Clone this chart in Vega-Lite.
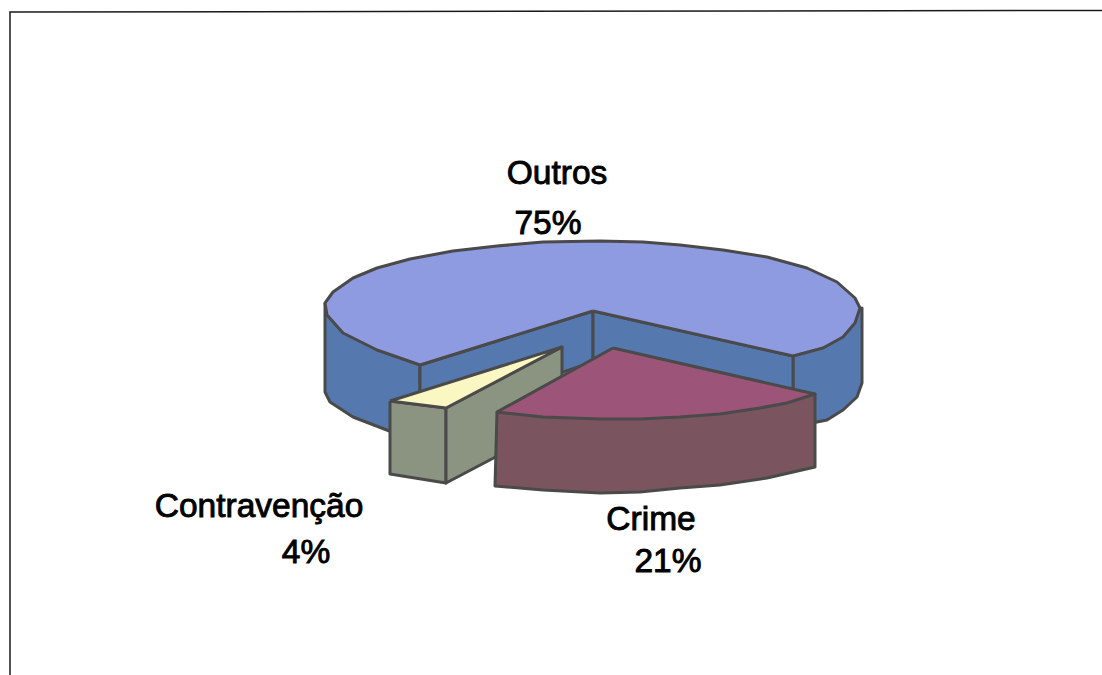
{"$schema":"https://vega.github.io/schema/vega-lite/v6.json","width":1102,"height":675,"padding":0,"autosize":{"type":"none"},"background":"#ffffff","view":{"stroke":null},
"datasets":{"faces":[
{"face":"a Outros outer side","slice":"Outros","share":75,"seq":1,"x":325,"y":303},{"face":"a Outros outer side","slice":"Outros","share":75,"seq":2,"x":325,"y":392},{"face":"a Outros outer side","slice":"Outros","share":75,"seq":3,"x":330,"y":402},{"face":"a Outros outer side","slice":"Outros","share":75,"seq":4,"x":353,"y":417},{"face":"a Outros outer side","slice":"Outros","share":75,"seq":5,"x":392,"y":432},{"face":"a Outros outer side","slice":"Outros","share":75,"seq":6,"x":420,"y":400},{"face":"a Outros outer side","slice":"Outros","share":75,"seq":7,"x":420,"y":365},{"face":"a Outros outer side","slice":"Outros","share":75,"seq":8,"x":325,"y":303},
{"face":"b Outros right side","slice":"Outros","share":75,"seq":1,"x":793,"y":356},{"face":"b Outros right side","slice":"Outros","share":75,"seq":2,"x":862,"y":308},{"face":"b Outros right side","slice":"Outros","share":75,"seq":3,"x":862,"y":383},{"face":"b Outros right side","slice":"Outros","share":75,"seq":4,"x":857,"y":397},{"face":"b Outros right side","slice":"Outros","share":75,"seq":5,"x":843,"y":410},{"face":"b Outros right side","slice":"Outros","share":75,"seq":6,"x":827,"y":420},{"face":"b Outros right side","slice":"Outros","share":75,"seq":7,"x":812,"y":423},{"face":"b Outros right side","slice":"Outros","share":75,"seq":8,"x":793,"y":400},{"face":"b Outros right side","slice":"Outros","share":75,"seq":9,"x":793,"y":356},
{"face":"c Outros left wall","slice":"Outros","share":75,"seq":1,"x":420,"y":365},{"face":"c Outros left wall","slice":"Outros","share":75,"seq":2,"x":593,"y":311},{"face":"c Outros left wall","slice":"Outros","share":75,"seq":3,"x":593,"y":362},{"face":"c Outros left wall","slice":"Outros","share":75,"seq":4,"x":420,"y":420},{"face":"c Outros left wall","slice":"Outros","share":75,"seq":5,"x":420,"y":365},
{"face":"d Outros right wall","slice":"Outros","share":75,"seq":1,"x":593,"y":311},{"face":"d Outros right wall","slice":"Outros","share":75,"seq":2,"x":793,"y":356},{"face":"d Outros right wall","slice":"Outros","share":75,"seq":3,"x":793,"y":410},{"face":"d Outros right wall","slice":"Outros","share":75,"seq":4,"x":593,"y":362},{"face":"d Outros right wall","slice":"Outros","share":75,"seq":5,"x":593,"y":311},
{"face":"e Outros top","slice":"Outros","share":75,"seq":1,"x":593,"y":311},{"face":"e Outros top","slice":"Outros","share":75,"seq":2,"x":420,"y":365},{"face":"e Outros top","slice":"Outros","share":75,"seq":3,"x":377,"y":350},{"face":"e Outros top","slice":"Outros","share":75,"seq":4,"x":343,"y":333},{"face":"e Outros top","slice":"Outros","share":75,"seq":5,"x":327,"y":315},{"face":"e Outros top","slice":"Outros","share":75,"seq":6,"x":325,"y":303},{"face":"e Outros top","slice":"Outros","share":75,"seq":7,"x":333,"y":292},{"face":"e Outros top","slice":"Outros","share":75,"seq":8,"x":353,"y":278},{"face":"e Outros top","slice":"Outros","share":75,"seq":9,"x":377,"y":268},{"face":"e Outros top","slice":"Outros","share":75,"seq":10,"x":410,"y":259},{"face":"e Outros top","slice":"Outros","share":75,"seq":11,"x":453,"y":251},{"face":"e Outros top","slice":"Outros","share":75,"seq":12,"x":497,"y":246},{"face":"e Outros top","slice":"Outros","share":75,"seq":13,"x":543,"y":242},{"face":"e Outros top","slice":"Outros","share":75,"seq":14,"x":600,"y":241},{"face":"e Outros top","slice":"Outros","share":75,"seq":15,"x":643,"y":242},{"face":"e Outros top","slice":"Outros","share":75,"seq":16,"x":680,"y":245},{"face":"e Outros top","slice":"Outros","share":75,"seq":17,"x":723,"y":250},{"face":"e Outros top","slice":"Outros","share":75,"seq":18,"x":767,"y":257},{"face":"e Outros top","slice":"Outros","share":75,"seq":19,"x":807,"y":268},{"face":"e Outros top","slice":"Outros","share":75,"seq":20,"x":837,"y":282},{"face":"e Outros top","slice":"Outros","share":75,"seq":21,"x":855,"y":298},{"face":"e Outros top","slice":"Outros","share":75,"seq":22,"x":860,"y":308},{"face":"e Outros top","slice":"Outros","share":75,"seq":23,"x":855,"y":323},{"face":"e Outros top","slice":"Outros","share":75,"seq":24,"x":843,"y":337},{"face":"e Outros top","slice":"Outros","share":75,"seq":25,"x":823,"y":348},{"face":"e Outros top","slice":"Outros","share":75,"seq":26,"x":793,"y":356},{"face":"e Outros top","slice":"Outros","share":75,"seq":27,"x":593,"y":311},
{"face":"f Contravenção front","slice":"Contravenção","share":4,"seq":1,"x":390,"y":401},{"face":"f Contravenção front","slice":"Contravenção","share":4,"seq":2,"x":446,"y":408},{"face":"f Contravenção front","slice":"Contravenção","share":4,"seq":3,"x":446,"y":483},{"face":"f Contravenção front","slice":"Contravenção","share":4,"seq":4,"x":390,"y":474},{"face":"f Contravenção front","slice":"Contravenção","share":4,"seq":5,"x":390,"y":401},
{"face":"g Contravenção wall","slice":"Contravenção","share":4,"seq":1,"x":446,"y":408},{"face":"g Contravenção wall","slice":"Contravenção","share":4,"seq":2,"x":562,"y":347},{"face":"g Contravenção wall","slice":"Contravenção","share":4,"seq":3,"x":562,"y":422},{"face":"g Contravenção wall","slice":"Contravenção","share":4,"seq":4,"x":446,"y":483},{"face":"g Contravenção wall","slice":"Contravenção","share":4,"seq":5,"x":446,"y":408},
{"face":"h Contravenção top","slice":"Contravenção","share":4,"seq":1,"x":390,"y":401},{"face":"h Contravenção top","slice":"Contravenção","share":4,"seq":2,"x":446,"y":408},{"face":"h Contravenção top","slice":"Contravenção","share":4,"seq":3,"x":562,"y":347},{"face":"h Contravenção top","slice":"Contravenção","share":4,"seq":4,"x":390,"y":401},
{"face":"i Crime side","slice":"Crime","share":21,"seq":1,"x":497,"y":412},{"face":"i Crime side","slice":"Crime","share":21,"seq":2,"x":495,"y":486},{"face":"i Crime side","slice":"Crime","share":21,"seq":3,"x":543,"y":490},{"face":"i Crime side","slice":"Crime","share":21,"seq":4,"x":600,"y":493},{"face":"i Crime side","slice":"Crime","share":21,"seq":5,"x":640,"y":492},{"face":"i Crime side","slice":"Crime","share":21,"seq":6,"x":680,"y":488},{"face":"i Crime side","slice":"Crime","share":21,"seq":7,"x":720,"y":485},{"face":"i Crime side","slice":"Crime","share":21,"seq":8,"x":767,"y":478},{"face":"i Crime side","slice":"Crime","share":21,"seq":9,"x":815,"y":467},{"face":"i Crime side","slice":"Crime","share":21,"seq":10,"x":815,"y":394},{"face":"i Crime side","slice":"Crime","share":21,"seq":11,"x":497,"y":412},
{"face":"j Crime top","slice":"Crime","share":21,"seq":1,"x":613,"y":348},{"face":"j Crime top","slice":"Crime","share":21,"seq":2,"x":815,"y":394},{"face":"j Crime top","slice":"Crime","share":21,"seq":3,"x":787,"y":403},{"face":"j Crime top","slice":"Crime","share":21,"seq":4,"x":760,"y":408},{"face":"j Crime top","slice":"Crime","share":21,"seq":5,"x":720,"y":414},{"face":"j Crime top","slice":"Crime","share":21,"seq":6,"x":680,"y":417},{"face":"j Crime top","slice":"Crime","share":21,"seq":7,"x":640,"y":419},{"face":"j Crime top","slice":"Crime","share":21,"seq":8,"x":600,"y":419},{"face":"j Crime top","slice":"Crime","share":21,"seq":9,"x":543,"y":417},{"face":"j Crime top","slice":"Crime","share":21,"seq":10,"x":497,"y":412},{"face":"j Crime top","slice":"Crime","share":21,"seq":11,"x":613,"y":348}
],
"frame":[{"seq":1,"x":10,"y":675},{"seq":2,"x":10,"y":12},{"seq":3,"x":1102,"y":10.5}],
"labels":[{"text":"Outros","x":557,"y":174},{"text":"75%","x":548,"y":224},{"text":"Contravenção","x":259,"y":507},{"text":"4%","x":306,"y":553},{"text":"Crime","x":651,"y":520},{"text":"21%","x":668,"y":562}]},
"layer":[
{"data":{"name":"frame"},"mark":{"type":"line","color":"#1a1a1a","strokeWidth":1.5},"encoding":{"x":{"field":"x","type":"quantitative","scale":{"domain":[0,1102],"range":[0,1102]},"axis":null},"y":{"field":"y","type":"quantitative","scale":{"domain":[0,675],"range":[0,675]},"axis":null},"order":{"field":"seq"}}},
{"data":{"name":"faces"},"mark":{"type":"line","filled":true,"stroke":"#4a4a4a","strokeWidth":3,"strokeJoin":"round","interpolate":"linear"},"encoding":{"x":{"field":"x","type":"quantitative","scale":{"domain":[0,1102],"range":[0,1102]},"axis":null},"y":{"field":"y","type":"quantitative","scale":{"domain":[0,675],"range":[0,675]},"axis":null},"order":{"field":"seq"},"fill":{"field":"face","type":"nominal","legend":null,"scale":{"domain":["a Outros outer side","b Outros right side","c Outros left wall","d Outros right wall","e Outros top","f Contravenção front","g Contravenção wall","h Contravenção top","i Crime side","j Crime top"],"range":["#5578ae","#5578ae","#5578ae","#5578ae","#8f9be0","#8b9480","#8b9480","#fbf7c2","#7a5560","#9c5478"]}}}},
{"data":{"name":"labels"},"mark":{"type":"text","font":"Liberation Sans","fontSize":33.5,"align":"center","baseline":"middle","color":"#000000","stroke":"#000000","strokeWidth":0.9},"encoding":{"x":{"field":"x","type":"quantitative","scale":{"domain":[0,1102],"range":[0,1102]},"axis":null},"y":{"field":"y","type":"quantitative","scale":{"domain":[0,675],"range":[0,675]},"axis":null},"text":{"field":"text"}}}
],
"resolve":{"scale":{"fill":"independent"}}}
